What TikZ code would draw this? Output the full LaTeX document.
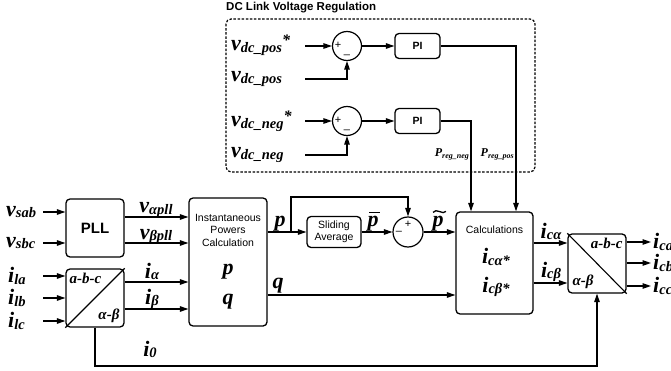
\documentclass[tikz,border=0pt]{standalone}
\usepackage{fontspec}
\setmainfont{Liberation Serif}
\setsansfont{Liberation Sans}
\usetikzlibrary{arrows.meta}
\newcommand\bvar[2]{{\fontsize{22}{22}\selectfont #1}\raisebox{-0.35ex}{\fontsize{14.5}{14.5}\selectfont #2}}
\newcommand\bstar{\raisebox{1.1ex}{\fontsize{16}{16}\selectfont *}}
\newcommand\pvar[1]{{\fontsize{12}{12}\selectfont P}\raisebox{-0.3ex}{\fontsize{8}{8}\selectfont #1}}
\begin{document}
\begin{tikzpicture}[x=1pt,y=-1pt,
  blk/.style={draw, line width=1.3pt, rounded corners=4pt, inner sep=0pt, font=\sffamily},
  sumj/.style={draw, circle, line width=1.2pt, minimum size=29pt, inner sep=0pt},
  conn/.style={line width=1.2pt},
  arr/.style={conn, -{Triangle[length=8.5pt,width=5.5pt]}},
  lab/.style={font=\bfseries\itshape, inner sep=0pt},
  slab/.style={font=\bfseries\itshape\fontsize{15}{15}\selectfont, inner sep=0pt},
  sgn/.style={font=\sffamily\fontsize{11}{11}\selectfont, inner sep=0pt},
  accent/.style={line width=1.3pt}]
\useasboundingbox (0,0) rectangle (671,371);

% DC link region
\node[anchor=west, font=\sffamily\bfseries\fontsize{11.5}{11.5}\selectfont, inner sep=0pt] (title) at (226,8) {DC Link Voltage Regulation};
\draw[line width=1.2pt, dash pattern=on 2.5pt off 1.6pt, rounded corners=5pt] (226,19) rectangle (535,172);

\node[sumj] (s1) at (347,46) {};
\node[sumj] (s2) at (347,121) {};
\node[sgn] at ([xshift=-9pt,yshift=1pt]s1.center) {+};
\node[sgn] at ([xshift=0pt,yshift=-9pt]s1.center) {\_};
\node[sgn] at ([xshift=-9pt,yshift=1pt]s2.center) {+};
\node[sgn] at ([xshift=0pt,yshift=-9pt]s2.center) {\_};
\node[blk, minimum width=45pt, minimum height=25pt, font=\sffamily\bfseries\fontsize{10.5}{10.5}\selectfont] (pi1) at (417.5,46) {PI};
\node[blk, minimum width=45pt, minimum height=25pt, font=\sffamily\bfseries\fontsize{10.5}{10.5}\selectfont] (pi2) at (417.5,121) {PI};

\node[lab, anchor=west] (l1) at (231,45) {\bvar{v}{dc\_pos}\bstar};
\node[lab, anchor=west] (l2) at (231,79) {\bvar{v}{dc\_pos}};
\node[lab, anchor=west] (l3) at (231,121) {\bvar{v}{dc\_neg}\bstar};
\node[lab, anchor=west] (l4) at (231,155) {\bvar{v}{dc\_neg}};
\coordinate (c1) at (305,46);
\coordinate (c2) at (305,79);
\coordinate (c3) at (305,121);
\coordinate (c4) at (305,155);
\draw[arr] (c1) -- (s1.west);
\draw[arr] (c2) -| (s1.south);
\draw[arr] (c3) -- (s2.west);
\draw[arr] (c4) -| (s2.south);
\draw[arr] (s1.east) -- (pi1.west);
\draw[arr] (s2.east) -- (pi2.west);

% Main blocks
\node[blk, minimum width=58pt, minimum height=58pt, font=\sffamily\bfseries\fontsize{15}{15}\selectfont] (pll) at (95,228) {PLL};
\node[blk, minimum width=58pt, minimum height=58pt] (abc1) at (95,298) {};
\draw[line width=1.1pt] (abc1.south west) -- (abc1.north east);
\node[slab, anchor=north west] at ([shift={(4pt,-5pt)}]abc1.north west) {a-b-c};
\node[slab, anchor=south east] at ([shift={(-5pt,5pt)}]abc1.south east) {α-β};

\node[blk, minimum width=78pt, minimum height=128pt] (inst) at (228,262) {};
\node[font=\sffamily\fontsize{10.5}{12.5}\selectfont, align=center, inner sep=0pt] (insttxt) at (228,230) {Instantaneous\\Powers\\Calculation};
\node[lab] (ip) at (228,272) {\fontsize{22}{22}\selectfont p};
\node[lab] (iq) at (228,302) {\fontsize{22}{22}\selectfont q};

\node[blk, minimum width=54pt, minimum height=31pt, align=center, font=\sffamily\fontsize{10.5}{11.5}\selectfont] (slide) at (334,232) {Sliding\\Average};
\node[sumj, minimum size=30pt] (s3) at (408,232) {};
\node[sgn] at ([yshift=8pt]s3.center) {+};
\node[sgn] at ([xshift=-9pt,yshift=-1pt]s3.center) {--};

\node[blk, minimum width=77pt, minimum height=102pt] (calc) at (494.5,263) {};
\node[font=\sffamily\fontsize{10.5}{10.5}\selectfont, inner sep=0pt] (calctxt) at (494.5,230) {Calculations};
\node[lab] (ica) at (496,257) {\bvar{i}{cα*}};
\node[lab] (icb) at (496,287) {\bvar{i}{cβ*}};

\node[blk, minimum width=58pt, minimum height=59pt] (abc2) at (597,263.5) {};
\draw[line width=1.1pt] (abc2.north west) -- (abc2.south east);
\node[slab, anchor=north east] at ([shift={(-4pt,-5pt)}]abc2.north east) {a-b-c};
\node[slab, anchor=south west] at ([shift={(5pt,5pt)}]abc2.south west) {α-β};

% Inputs
\node[lab, anchor=west] (vsab) at (6,212) {\bvar{v}{sab}};
\node[lab, anchor=west] (vsbc) at (6,243) {\bvar{v}{sbc}};
\node[lab, anchor=west] (ila) at (8,276) {\bvar{i}{la}};
\node[lab, anchor=west] (ilb) at (8,298) {\bvar{i}{lb}};
\node[lab, anchor=west] (ilc) at (8,321) {\bvar{i}{lc}};
\coordinate (in1) at (43,212);
\coordinate (in2) at (43,243);
\coordinate (in3) at (43,276);
\coordinate (in4) at (43,298);
\coordinate (in5) at (43,321);
\draw[arr] (in1) -- (in1 -| pll.west);
\draw[arr] (in2) -- (in2 -| pll.west);
\draw[arr] (in3) -- (in3 -| abc1.west);
\draw[arr] (in4) -- (in4 -| abc1.west);
\draw[arr] (in5) -- (in5 -| abc1.west);

% PLL / abc outputs
\draw[arr] (pll.east |- 0,217) -- (inst.west |- 0,217);
\draw[arr] (pll.east |- 0,243) -- (inst.west |- 0,243);
\draw[arr] (abc1.east |- 0,282) -- (inst.west |- 0,282);
\draw[arr] (abc1.east |- 0,309) -- (inst.west |- 0,309);
\node[lab, anchor=base] (lva) at (156,213) {\bvar{v}{αpll}};
\node[lab, anchor=base] (lvb) at (156,239) {\bvar{v}{βpll}};
\node[lab, anchor=base] (lia) at (152,278) {\bvar{i}{α}};
\node[lab, anchor=base] (lib) at (152,304) {\bvar{i}{β}};

% p path
\coordinate (pb) at (291,232);
\draw[arr] (inst.east |- pb) -- (slide.west);
\draw[arr] (pb) -- (291,197) -| (s3.north);
\draw[arr] (slide.east) -- (s3.west);
\draw[arr] (s3.east) -- (calc.west |- s3.east);
\node[lab, anchor=base] (lp) at (280,226) {\fontsize{22}{22}\selectfont p};
\node[lab, anchor=base] (lpbar) at (373,226) {\fontsize{22}{22}\selectfont p};
\node[lab, anchor=base] (lptil) at (438,226) {\fontsize{22}{22}\selectfont p};
\draw[accent] ([xshift=-4pt,yshift=3pt]lpbar.north) -- ([xshift=7pt,yshift=3pt]lpbar.north);
\draw[accent] ([xshift=-5pt,yshift=3pt]lptil.north) .. controls +(3pt,5pt) and +(-3pt,-4pt) .. ([xshift=8pt,yshift=4pt]lptil.north);

% q path
\draw[arr] (inst.east |- 0,295) -- (calc.west |- 0,295);
\node[lab, anchor=base] (lq) at (278,288) {\fontsize{22}{22}\selectfont q};

% P_reg
\draw[arr] (pi1.east) -| ([xshift=21.5pt]calc.north);
\draw[arr] (pi2.east) -| ([xshift=-23.5pt]calc.north);
\node[lab, anchor=base east] (pneg) at (469,157) {\pvar{reg\_neg}};
\node[lab, anchor=base east] (ppos) at (514,157) {\pvar{reg\_pos}};

% calc outputs
\draw[arr] (calc.east |- 0,243) -- (abc2.west |- 0,243);
\draw[arr] (calc.east |- 0,283) -- (abc2.west |- 0,283);
\node[lab, anchor=base] (lica) at (551,238) {\bvar{i}{cα}};
\node[lab, anchor=base] (licb) at (551,277) {\bvar{i}{cβ}};

% abc2 outputs
\coordinate (o1) at (651,242);
\coordinate (o2) at (651,263);
\coordinate (o3) at (651,286);
\draw[arr] (abc2.east |- o1) -- (o1);
\draw[arr] (abc2.east |- o2) -- (o2);
\draw[arr] (abc2.east |- o3) -- (o3);
\node[lab, anchor=west] (lca) at (653,242) {\bvar{i}{ca}};
\node[lab, anchor=west] (lcb) at (653,263) {\bvar{i}{cb}};
\node[lab, anchor=west] (lcc) at (653,286) {\bvar{i}{cc}};

% i0 feedback
\coordinate (fb) at (95,366);
\draw[arr] (abc1.south) -- (fb) -| (abc2.south);
\node[lab, anchor=base] (li0) at (150,356) {\bvar{i}{0}};
\end{tikzpicture}
\end{document}
